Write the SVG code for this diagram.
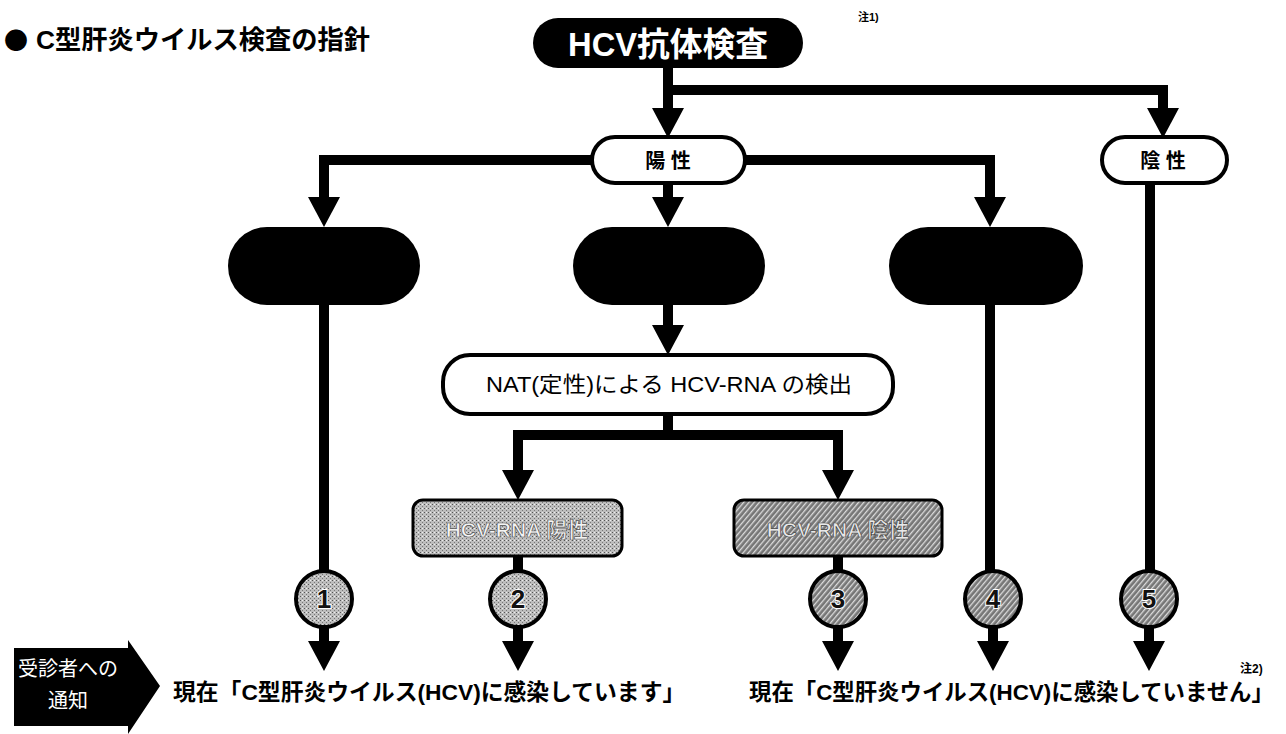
<svg xmlns="http://www.w3.org/2000/svg" width="1286" height="734" viewBox="0 0 1286 734">
<style>
.t{font-family:"Liberation Sans","Noto Sans CJK JP",sans-serif;}
.b{font-weight:bold;}
.ln{fill:none;stroke:#000;stroke-width:10;}
.pill{fill:#000;}
.wbox{fill:#fff;stroke:#000;stroke-width:4;}
.num{font-family:"Liberation Sans",sans-serif;font-weight:bold;font-size:26px;fill:#111;stroke:#fff;stroke-width:2;paint-order:stroke;text-anchor:middle;}
</style>
<defs>
<marker id="ah" viewBox="0 0 30 32" refX="0" refY="16" markerWidth="30" markerHeight="32" markerUnits="userSpaceOnUse" orient="auto">
<path d="M0,0 L30,16 L0,32 Z" fill="#000"/>
</marker>
<pattern id="lite" width="4" height="4" patternUnits="userSpaceOnUse">
<rect width="4" height="4" fill="#bdbdbd"/>
<rect x="0" y="0" width="1" height="1" fill="#555"/>
<rect x="2" y="2" width="1" height="1" fill="#777"/>
<rect x="2" y="0" width="1" height="1" fill="#eee"/>
</pattern>
<pattern id="dark" width="4" height="4" patternUnits="userSpaceOnUse" patternTransform="rotate(-50)">
<rect width="4" height="4" fill="#767676"/>
<rect x="0" y="0" width="4" height="1.3" fill="#dcdcdc"/>
</pattern>
</defs>

<g id="title">
<text x="4" y="49" font-size="24" font-weight="bold" font-family="'Noto Sans CJK JP',sans-serif">●</text>
<text class="t b" x="36" y="49" font-size="26" textLength="334" lengthAdjust="spacingAndGlyphs">C型肝炎ウイルス検査の指針</text>
</g>

<g id="connectors">
<path class="ln" d="M668,66 V108" marker-end="url(#ah)"/>
<path class="ln" d="M668,90 H1163 V108" marker-end="url(#ah)"/>
<path class="ln" d="M592,160 H324 V197" marker-end="url(#ah)"/>
<path class="ln" d="M745,160 H990 V197" marker-end="url(#ah)"/>
<path class="ln" d="M668,183 V197" marker-end="url(#ah)"/>
<path class="ln" d="M668,303 V325" marker-end="url(#ah)"/>
<path class="ln" d="M668,414 V435"/>
<path class="ln" d="M513,435 H843"/>
<path class="ln" d="M518,435 V470" marker-end="url(#ah)"/>
<path class="ln" d="M838,435 V470" marker-end="url(#ah)"/>
<path class="ln" d="M324,303 V572"/>
<path class="ln" d="M990,303 V572"/>
<path class="ln" d="M1150,183 V572"/>
<path class="ln" d="M518,555 V572"/>
<path class="ln" d="M838,555 V572"/>
<path class="ln" d="M324,626 V641" marker-end="url(#ah)"/>
<path class="ln" d="M518,626 V641" marker-end="url(#ah)"/>
<path class="ln" d="M838,626 V641" marker-end="url(#ah)"/>
<path class="ln" d="M993,626 V641" marker-end="url(#ah)"/>
<path class="ln" d="M1149,626 V641" marker-end="url(#ah)"/>
</g>

<g id="hcv-antibody">
<rect x="533" y="18" width="270" height="50" rx="25" fill="#000"/>
<text class="t b" x="668" y="56" font-size="33" fill="#fff" text-anchor="middle" textLength="200" lengthAdjust="spacingAndGlyphs">HCV抗体検査</text>
<text class="t b" x="858" y="21" font-size="11">注1)</text>
</g>

<g id="positive">
<rect class="wbox" x="592" y="137" width="153" height="46" rx="23"/>
<text class="t b" x="668" y="168" font-size="20" text-anchor="middle">陽 性</text>
</g>

<g id="negative">
<rect class="wbox" x="1102" y="137" width="125" height="46" rx="23"/>
<text class="t b" x="1163" y="168" font-size="20" text-anchor="middle">陰 性</text>
</g>

<g id="pill-left"><rect class="pill" x="228" y="227" width="192" height="78" rx="39"/></g>
<g id="pill-mid"><rect class="pill" x="573" y="227" width="192" height="78" rx="39"/></g>
<g id="pill-right"><rect class="pill" x="889" y="227" width="194" height="78" rx="39"/></g>

<g id="nat">
<rect class="wbox" x="443" y="355" width="450" height="59" rx="27"/>
<text class="t" x="486" y="392" font-size="22" textLength="366" lengthAdjust="spacingAndGlyphs">NAT(定性)による HCV-RNA の検出</text>
</g>

<g id="rna-positive">
<rect x="413" y="500" width="209" height="56" rx="10" fill="url(#lite)" stroke="#000" stroke-width="3"/>
<text class="t b" x="517" y="537" font-size="21" fill="#f4f4f4" stroke="#555" stroke-width="0.7" text-anchor="middle">HCV-RNA 陽性</text>
</g>

<g id="rna-negative">
<rect x="734" y="500" width="208" height="56" rx="10" fill="url(#dark)" stroke="#000" stroke-width="3"/>
<text class="t b" x="838" y="537" font-size="21" fill="#e8e8e8" stroke="#444" stroke-width="0.7" text-anchor="middle">HCV-RNA 陰性</text>
</g>

<g id="c1"><circle cx="324" cy="599" r="28" fill="url(#lite)" stroke="#000" stroke-width="4"/><text class="num" x="324" y="608">1</text></g>
<g id="c2"><circle cx="518" cy="599" r="28" fill="url(#lite)" stroke="#000" stroke-width="4"/><text class="num" x="518" y="608">2</text></g>
<g id="c3"><circle cx="838" cy="599" r="28" fill="url(#dark)" stroke="#000" stroke-width="4"/><text class="num" x="838" y="608">3</text></g>
<g id="c4"><circle cx="993" cy="599" r="28" fill="url(#dark)" stroke="#000" stroke-width="4"/><text class="num" x="993" y="608">4</text></g>
<g id="c5"><circle cx="1149" cy="599" r="28" fill="url(#dark)" stroke="#000" stroke-width="4"/><text class="num" x="1149" y="608">5</text></g>

<g id="notice">
<path d="M14,648 H128 V640 L160,686 L128,734 V726 H14 Z" fill="#000"/>
<text class="t" x="68" y="676" font-size="20" fill="#fff" text-anchor="middle">受診者への</text>
<text class="t" x="68" y="708" font-size="20" fill="#fff" text-anchor="middle">通知</text>
</g>

<text class="t b" x="173" y="700" font-size="22.8">現在「C型肝炎ウイルス(HCV)に感染しています」</text>
<text class="t b" x="749" y="700" font-size="22.4">現在「C型肝炎ウイルス(HCV)に感染していません」</text>
<text class="t b" x="1240" y="673" font-size="12">注2)</text>
</svg>
